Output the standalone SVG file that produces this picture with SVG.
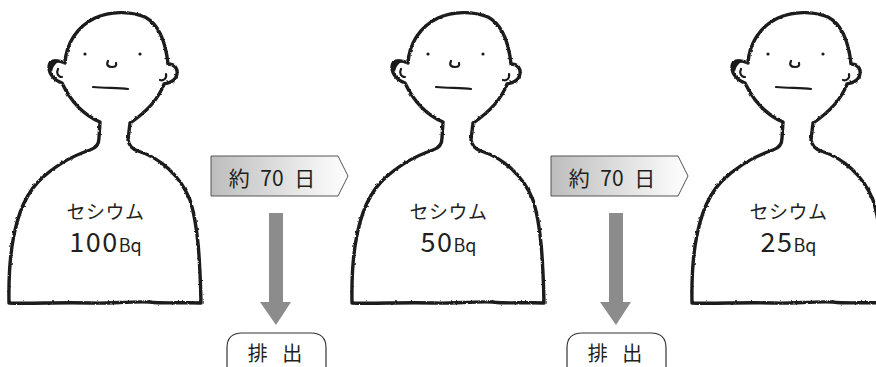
<svg xmlns="http://www.w3.org/2000/svg" xmlns:xlink="http://www.w3.org/1999/xlink" width="876" height="367" viewBox="0 0 876 367">
  <style>
    .ink { fill: #fff; stroke: #1a1a1a; stroke-width: 3.4; stroke-linecap: round; stroke-linejoin: round; }
    .thin { fill: none; stroke: #1a1a1a; stroke-width: 2.2; stroke-linecap: round; }
    .lbl { font-family: "Noto Sans CJK JP", "Noto Sans", sans-serif; font-weight: 400; fill: #231f20; text-anchor: middle; }
    .name { font-size: 19px; letter-spacing: 0.5px; }
    .num { font-size: 27px; letter-spacing: 1.5px; }
    .unit { font-size: 18px; }
    .tag { font-size: 21px; word-spacing: 6px; }
    .out { font-size: 20px; word-spacing: 10px; }
    .step { stroke: #555; stroke-width: 1; fill: url(#stepFill); }
    .drop { fill: #8c8c8c; }
    .pill { fill: none; stroke: #333; stroke-width: 1.2; }
  </style>
  <defs>
    <linearGradient id="stepFill" x1="0" y1="0" x2="1" y2="0">
      <stop offset="0" stop-color="#bdbdbd"/>
      <stop offset="1" stop-color="#ffffff"/>
    </linearGradient>
    <filter id="rough" x="-5%" y="-5%" width="110%" height="110%">
      <feTurbulence type="fractalNoise" baseFrequency="0.35" numOctaves="2" seed="3" result="n"/>
      <feDisplacementMap in="SourceGraphic" in2="n" scale="2.4" xChannelSelector="R" yChannelSelector="G"/>
    </filter>
    <!-- hand-drawn bust: head, ears, neck, shoulders -->
    <g id="figure">
      <path class="ink" filter="url(#rough)" d="M 9,303 C 8,250 16,205 38,182 C 55,165 72,156 90,150 C 96,148 99,144 99,138 L 100,122 C 86,116 72,104 62,83 C 54,80 49,74 49,67 C 49,61 56,59 65,63 C 66,45 76,27 95,18 C 110,11 130,11 145,17 C 160,25 166,45 168,64 C 174,64 178,68 177,74 C 176,80 170,83 164,84 C 158,100 145,113 130,123 L 128,140 C 129,146 132,149 138,151 C 160,158 180,175 190,200 C 198,225 200,260 201,303 C 180,302 165,304 150,302 C 130,301 110,304 90,303 C 60,302 30,304 9,303 Z"/>
      <path d="M 48,66 C 49,59 56,58 61,61 C 55,63 53,67 52,72 Z" fill="#1a1a1a"/>
      <path class="thin" d="M 58,69 C 56,73 58,77 62,77"/>
      <path class="thin" d="M 166,74 C 167,79 163,81 160,80"/>
      <circle cx="85" cy="54" r="1.6" fill="#1a1a1a"/>
      <circle cx="140" cy="54" r="1.6" fill="#1a1a1a"/>
      <path class="thin" d="M 108,61 C 106,65 108,67 112,67 C 115,67 117,66 116,63"/>
      <path class="thin" stroke-width="2.6" d="M 93,87 C 105,88 118,88 128,89"/>
    </g>
  </defs>

  <g id="person-100">
    <use xlink:href="#figure"/>
    <text class="lbl name" x="105.5" y="219">セシウム</text>
    <text class="lbl" x="105.5" y="252"><tspan class="num">100</tspan><tspan class="unit">Bq</tspan></text>
  </g>

  <g id="person-50" transform="translate(343,0)">
    <use xlink:href="#figure"/>
    <text class="lbl name" x="105.5" y="219">セシウム</text>
    <text class="lbl" x="105.5" y="252"><tspan class="num">50</tspan><tspan class="unit">Bq</tspan></text>
  </g>

  <g id="person-25" transform="translate(683,0)">
    <use xlink:href="#figure"/>
    <text class="lbl name" x="105.5" y="219">セシウム</text>
    <text class="lbl" x="105.5" y="252"><tspan class="num">25</tspan><tspan class="unit">Bq</tspan></text>
  </g>

  <g id="excreted-1">
    <path class="pill" d="M 227,372 V 348 Q 227,333 242,333 H 311 Q 326,333 326,348 V 372"/>
    <text class="lbl out" x="275" y="361">排 出</text>
  </g>

  <g id="excreted-2" transform="translate(340,0)">
    <path class="pill" d="M 227,372 V 348 Q 227,333 242,333 H 311 Q 326,333 326,348 V 372"/>
    <text class="lbl out" x="275" y="361">排 出</text>
  </g>

  <g id="connectors">
    <g id="step-1">
      <path class="step" d="M 211,156 H 338 L 348,176 L 338,196 H 211 Z"/>
      <text class="lbl tag" x="272" y="186">約 70 日</text>
      <polygon class="drop" points="269,213 283,213 283,302 291,302 276,325 260,302 269,302"/>
    </g>
    <g id="step-2" transform="translate(340,0)">
      <path class="step" d="M 211,156 H 338 L 348,176 L 338,196 H 211 Z"/>
      <text class="lbl tag" x="272" y="186">約 70 日</text>
      <polygon class="drop" points="269,213 283,213 283,302 291,302 276,325 260,302 269,302"/>
    </g>
  </g>
</svg>
